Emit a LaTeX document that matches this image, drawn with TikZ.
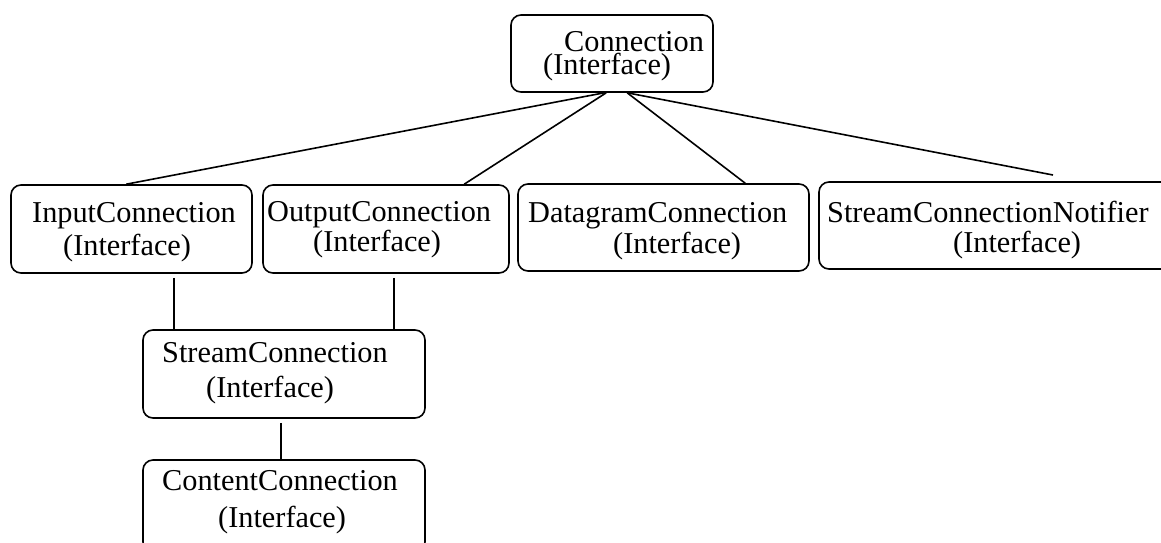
\documentclass[tikz,border=0pt]{standalone}
\usepackage{fontspec}
\setmainfont{Liberation Serif}
\usetikzlibrary{calc}
\tikzset{
  ifbox/.style={draw=black, line width=1.6pt, rounded corners=10pt, inner sep=0pt, fill=none},
  lbl/.style={anchor=base west, inner sep=0pt, font=\fontsize{30.3}{36}\selectfont},
  link/.style={draw=black, line width=1.6pt}
}
\begin{document}
\begin{tikzpicture}[x=1pt,y=-1pt]
\useasboundingbox (0,0) rectangle (1161,542);
\clip (0,0) rectangle (1161,542);
% boxes
\node[ifbox, minimum width=202pt, minimum height=77pt] (conn) at (612,53.5) {};
\node[ifbox, minimum width=241pt, minimum height=88pt] (inp) at (131.5,229) {};
\node[ifbox, minimum width=246pt, minimum height=88pt] (out) at (386,229) {};
\node[ifbox, minimum width=291pt, minimum height=87pt] (dat) at (663.5,227.5) {};
\node[ifbox, minimum width=361pt, minimum height=87pt] (notif) at (999.5,225.5) {};
\node[ifbox, minimum width=282pt, minimum height=88pt] (stream) at (284,374) {};
\node[ifbox, minimum width=282pt, minimum height=92pt] (content) at (284,506) {};
% texts
\node[lbl] (connA) at (564,51) {Connection};
\node[lbl] (connB) at (543,74) {(Interface)};
\node[lbl] (inpA) at (32,222) {InputConnection};
\node[lbl] (inpB) at (63,255) {(Interface)};
\node[lbl] (outA) at (267,221) {OutputConnection};
\node[lbl] (outB) at (313,251) {(Interface)};
\node[lbl] (datA) at (528,222) {DatagramConnection};
\node[lbl] (datB) at (613,253) {(Interface)};
\node[lbl] (notA) at (827,222) {StreamConnectionNotifier};
\node[lbl] (notB) at (953,252) {(Interface)};
\node[lbl] (strA) at (162,362) {StreamConnection};
\node[lbl] (strB) at (206,397) {(Interface)};
\node[lbl] (conA) at (162,490) {ContentConnection};
\node[lbl] (conB) at (218,527) {(Interface)};
% connectors
\coordinate (notifEnd) at (1053,175);
\draw[link] ($(conn.south west)+(94,0)$) -- ($(inp.north west)+(116,0)$);
\draw[link] ($(conn.south west)+(96,0)$) -- ($(out.north west)+(202,0)$);
\draw[link] ($(conn.south west)+(117,0)$) -- ($(dat.north west)+(228,0)$);
\draw[link] ($(conn.south west)+(117,0)$) -- (notifEnd);
\draw[link, shorten <=4pt] ($(inp.south west)+(164,0)$) -- ($(stream.north west)+(32,0)$);
\draw[link, shorten <=4pt] ($(out.south west)+(132,0)$) -- ($(stream.north west)+(252,0)$);
\draw[link, shorten <=4pt] (stream.south -| 281,0) -- (content.north -| 281,0);
\end{tikzpicture}
\end{document}
